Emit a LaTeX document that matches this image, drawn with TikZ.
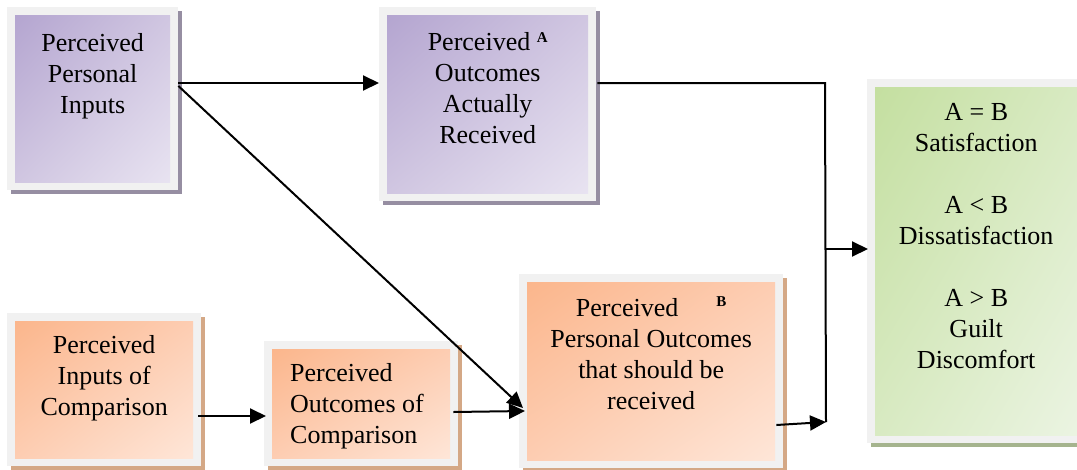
\documentclass[tikz,border=0pt]{standalone}
\usepackage{fontspec}
\setmainfont{Liberation Serif}
\newfontfamily\panelfont{Liberation Serif}
\usetikzlibrary{arrows.meta,calc,shadings}

% panel colours: A = upper left, B = lower right, M = the other corners, S = shadow
\definecolor{framegray}{RGB}{241,241,241}
\definecolor{purA}{RGB}{180,165,208}
\definecolor{purB}{RGB}{232,227,241}
\definecolor{purM}{RGB}{208,198,225}
\definecolor{purS}{RGB}{150,142,162}
\definecolor{orgA}{RGB}{251,182,140}
\definecolor{orgB}{RGB}{254,230,216}
\definecolor{orgM}{RGB}{253,205,178}
\definecolor{orgS}{RGB}{212,168,134}
\definecolor{grnA}{RGB}{196,223,160}
\definecolor{grnB}{RGB}{235,244,226}
\definecolor{grnM}{RGB}{216,234,194}
\definecolor{grnS}{RGB}{165,180,142}

% text block of a panel: width, height, content (top aligned)
\newcommand\panelbody[3]{\begin{minipage}[t][#2pt][t]{#1pt}\panelfont\fontsize{26pt}{31pt}\selectfont#3\end{minipage}}
\newcommand\boxlead[1]{\rule{0pt}{#1}}
\newcommand\supmark[2]{\raisebox{#1}{\panelfont\fontsize{15pt}{15pt}\selectfont\bfseries #2}}

\tikzset{
  panel/.style={inner sep=0pt, anchor=north west,
    preaction={draw=#1S, line width=16pt, transform canvas={shift={(4pt,-4pt)}}},
    preaction={draw=framegray, line width=16pt},
    upper left=#1A, lower right=#1B, upper right=#1M, lower left=#1M},
  link/.style={line width=2pt},
  arr/.style={line width=2pt, -{Triangle[length=16pt,width=15pt]}}
}

\begin{document}
\begin{tikzpicture}[x=1pt, y=-1pt]
\useasboundingbox (0,0) rectangle (1077,469);
\clip (0,0) rectangle (1077,469);
\fill[white] (0,0) rectangle (1077,469);

% upper row
\node[panel=pur] (in1) at (15,15)
  {\panelbody{155}{167}{\centering\boxlead{36pt}Perceived\\Personal\\Inputs}};
\node[panel=pur] (out1) at (387,15)
  {\panelbody{201}{178}{\centering\boxlead{35.5pt}Perceived \supmark{8pt}{A}\\Outcomes\\Actually\\Received}};

% lower row
\node[panel=org] (cmpin) at (15,321)
  {\panelbody{178}{137}{\centering\boxlead{32.5pt}Perceived\\Inputs of\\Comparison}};
\node[panel=org] (cmpout) at (272,349)
  {\panelbody{178}{109}{\raggedright\leftskip=18pt\boxlead{32.5pt}Perceived\\Outcomes of\\Comparison}};
\node[panel=org] (B) at (527,282)
  {\panelbody{248}{178}{\centering\boxlead{34.5pt}Perceived\hspace{38pt}\supmark{10pt}{B}\\Personal Outcomes\\that should be\\received}};

% result panel
\node[panel=grn] (res) at (875,87)
  {\panelbody{202}{348}{\centering\boxlead{33.5pt}A = B\\Satisfaction\\[31pt]A < B\\Dissatisfaction\\[31pt]A > B\\Guilt\\Discomfort}};

% collecting line on the right
\coordinate (busTop) at (825,83);
\coordinate (busMid) at (825,249);
\coordinate (busBot) at (826,422);
\coordinate (resIn) at (busMid -| res.west);

% connectors
\draw[arr] ($(in1.north east)+(8,68)$) -- ($(out1.north west)+(-8,68)$);
\draw[arr] ($(in1.north east)+(8,71)$) -- ($(B.north west)+(-4,126)$);
\draw[link] ($(out1.north east)+(9,68)$) -- (busTop) -- (busBot);
\draw[arr] ($(B.north east)+(1,143)$) -- (busBot);
\draw[arr] (busMid) -- ($(resIn)+(-7,0)$);
\draw[arr] ($(cmpin.north east)+(5,95)$) -- ($(cmpout.north west)+(-6,67)$);
\draw[arr] ($(cmpout.north east)+(3,63)$) -- ($(B.north west)+(-2,129)$);
\end{tikzpicture}
\end{document}
